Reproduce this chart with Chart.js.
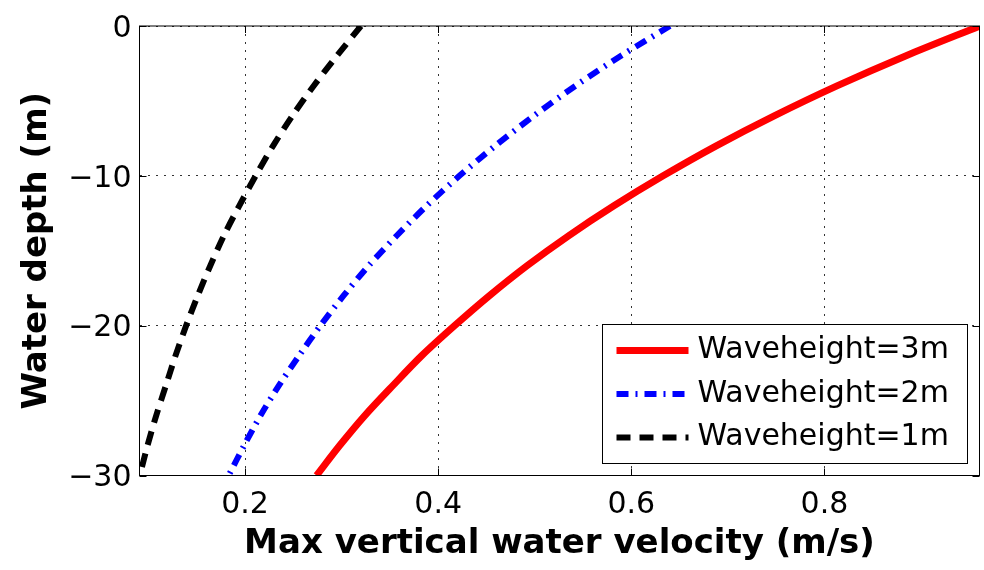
<!DOCTYPE html>
<html>
<head>
<meta charset="utf-8">
<script src="https://cdn.jsdelivr.net/npm/chart.js@4.4.0/dist/chart.umd.min.js"></script>
<style>
	html, body { margin: 0; padding: 0; background: #fff; }
	canvas { display: block; }
</style>
</head>
<body>
<canvas id="graficoVelocidade" width="984" height="570"></canvas>
<script>
var depths = [0, -2, -4, -6, -8, -10, -12, -14, -16, -18, -20, -22, -24, -26, -28, -30];
var vel3m = [0.961, 0.884, 0.813, 0.748, 0.688, 0.633, 0.582, 0.535, 0.492, 0.453, 0.417, 0.383, 0.353, 0.324, 0.298, 0.274];
var vel2m = [0.640, 0.589, 0.542, 0.499, 0.459, 0.422, 0.388, 0.357, 0.328, 0.302, 0.278, 0.256, 0.235, 0.216, 0.199, 0.183];
var vel1m = [0.320, 0.295, 0.271, 0.249, 0.229, 0.211, 0.194, 0.178, 0.164, 0.151, 0.139, 0.128, 0.118, 0.108, 0.099, 0.091];
var seriesLabels = ['Waveheight=3m', 'Waveheight=2m', 'Waveheight=1m'];
var xTicks = [0.2, 0.4, 0.6, 0.8];
var yTicks = [-30, -20, -10, 0];
var xRange = [0.0907, 0.9606];
var yRange = [-30, 0];

var FONTE = '"DejaVu Sans", "Liberation Sans", sans-serif';

var Ondas = Ondas || {};

Ondas.GraficoVelocidade = (function() {

	function GraficoVelocidade() {
		this.ctx = document.getElementById('graficoVelocidade').getContext('2d');
	}

	function pontos(velocidades) {
		return velocidades.map(function(v, i) {
			return { x: v, y: depths[i] };
		});
	}

	// caixa do eixo (estilo matlab) com ticks para dentro
	var molduraPlugin = {
		id: 'moldura',
		afterDatasetsDraw: function(chart) {
			var ctx = chart.ctx, area = chart.chartArea;
			var sx = chart.scales.x, sy = chart.scales.y;
			var tam = 7;
			ctx.save();
			ctx.strokeStyle = '#000';
			ctx.lineWidth = 1;
			ctx.strokeRect(area.left, area.top, area.right - area.left, area.bottom - area.top);
			ctx.beginPath();
			sx.ticks.forEach(function(t) {
				var px = Math.round(sx.getPixelForValue(t.value)) + 0.5;
				ctx.moveTo(px, area.bottom); ctx.lineTo(px, area.bottom - tam);
				ctx.moveTo(px, area.top); ctx.lineTo(px, area.top + tam);
			});
			sy.ticks.forEach(function(t) {
				var py = Math.round(sy.getPixelForValue(t.value)) + 0.5;
				ctx.moveTo(area.left, py); ctx.lineTo(area.left + tam, py);
				ctx.moveTo(area.right, py); ctx.lineTo(area.right - tam, py);
			});
			ctx.stroke();
			ctx.restore();
		}
	};

	var legendaPlugin = {
		id: 'legenda',
		afterDraw: function(chart) {
			var ctx = chart.ctx, area = chart.chartArea;
			var w = 365, h = 139;
			var x0 = area.right - 377, y0 = area.bottom - 151;
			ctx.save();
			ctx.fillStyle = '#fff';
			ctx.fillRect(x0, y0, w, h);
			ctx.strokeStyle = '#000';
			ctx.lineWidth = 1;
			ctx.strokeRect(x0, y0, w, h);
			chart.data.datasets.forEach(function(ds, i) {
				var y = y0 + 26 + i * 43.5;
				ctx.beginPath();
				ctx.strokeStyle = ds.borderColor;
				ctx.lineWidth = ds.borderWidth;
				ctx.setLineDash(ds.borderDash || []);
				ctx.moveTo(x0 + 14, y);
				ctx.lineTo(x0 + 86, y);
				ctx.stroke();
				ctx.setLineDash([]);
				ctx.fillStyle = '#000';
				ctx.font = '30px ' + FONTE;
				ctx.textBaseline = 'middle';
				ctx.textAlign = 'left';
				ctx.fillText(ds.label, x0 + 95, y);
			});
			ctx.restore();
		}
	};

	GraficoVelocidade.prototype.iniciar = function() {
		var grafico = new Chart(this.ctx, {
			type: 'scatter',
			data: {
				datasets: [{
					label: seriesLabels[0],
					data: pontos(vel3m),
					borderColor: '#ff0000',
					borderWidth: 7,
					showLine: true
				}, {
					label: seriesLabels[1],
					data: pontos(vel2m),
					borderColor: '#0000ff',
					borderWidth: 6,
					borderDash: [12, 7, 2, 7],
					showLine: true
				}, {
					label: seriesLabels[2],
					data: pontos(vel1m),
					borderColor: '#000000',
					borderWidth: 6,
					borderDash: [14, 9],
					showLine: true
				}]
			},
			options: {
				responsive: false,
				animation: false,
				clip: 0,
				elements: {
					point: { radius: 0, hoverRadius: 0 },
					line: { tension: 0.3, fill: false }
				},
				layout: { padding: { top: 21.5, right: 4.5, left: 0, bottom: 0 } },
				plugins: {
					legend: { display: false },
					tooltip: { enabled: false }
				},
				scales: {
					x: {
						type: 'linear',
						min: xRange[0],
						max: xRange[1],
						afterBuildTicks: function(scale) {
							scale.ticks = xTicks.map(function(v) { return { value: v }; });
						},
						afterFit: function(scale) { scale.height = 94.5; },
						ticks: {
							font: { family: FONTE, size: 30 },
							color: '#000',
							padding: 12,
							maxRotation: 0,
							autoSkip: false,
							callback: function(v) { return v.toFixed(1); }
						},
						grid: { color: '#333', lineWidth: 1, drawTicks: false },
						border: { display: false, dash: [2, 6] },
						title: {
							display: true,
							text: 'Max vertical water velocity (m/s)',
							color: '#000',
							font: { family: FONTE, size: 34, weight: 'bold' },
							padding: { top: 0, bottom: 5 }
						}
					},
					y: {
						type: 'linear',
						min: yRange[0],
						max: yRange[1],
						afterBuildTicks: function(scale) {
							scale.ticks = yTicks.map(function(v) { return { value: v }; });
						},
						afterFit: function(scale) { scale.width = 139.5; },
						ticks: {
							font: { family: FONTE, size: 30 },
							color: '#000',
							padding: 8,
							labelOffset: 3,
							autoSkip: false,
							callback: function(v) { return v === 0 ? '0' : '\u2212' + Math.abs(v); }
						},
						grid: { color: '#333', lineWidth: 1, drawTicks: false },
						border: { display: false, dash: [2, 6] },
						title: {
							display: true,
							text: 'Water depth (m)',
							color: '#000',
							font: { family: FONTE, size: 34, weight: 'bold' },
							padding: { top: 17, bottom: 0 }
						}
					}
				}
			},
			plugins: [molduraPlugin, legendaPlugin]
		});
	};

	return GraficoVelocidade;

}());

var graficoVelocidade = new Ondas.GraficoVelocidade();
graficoVelocidade.iniciar();
</script>
</body>
</html>
